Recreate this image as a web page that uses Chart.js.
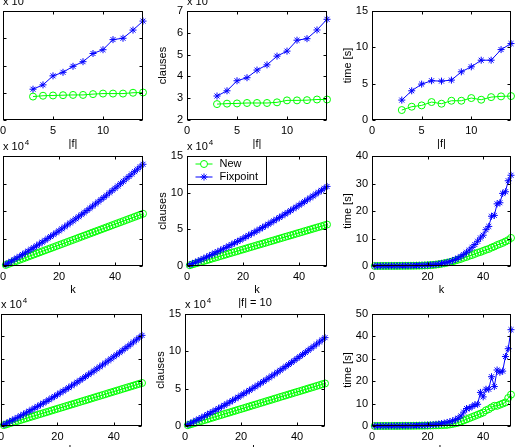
<!DOCTYPE html>
<html><head><meta charset="utf-8">
<script src="https://cdn.jsdelivr.net/npm/chart.js@4"></script>
<style>
html,body{margin:0;padding:0;width:516px;height:447px;overflow:hidden;background:#fff;position:relative}
canvas{position:absolute}
</style></head><body>
<script>
// ---------- data ----------
const fSizes = [3,4,5,6,7,8,9,10,11,12,13,14];
const kValues = [1,2,3,4,5,6,7,8,9,10,11,12,13,14,15,16,17,18,19,20,21,22,23,24,25,26,27,28,29,30,31,32,33,34,35,36,37,38,39,40,41,42,43,44,45,46,47,48,49,50];

// row 1: varying |f|
const topLeftNew  = [1.86,1.89,1.90,1.91,1.92,1.92,1.95,1.97,1.97,1.97,2.00,2.01];
const topLeftFix  = [2.13,2.29,2.62,2.75,2.97,3.14,3.44,3.58,3.95,4.00,4.30,4.63];
const topMidNew   = [2.73,2.75,2.76,2.78,2.78,2.78,2.81,2.90,2.90,2.91,2.94,2.94];
const topMidFix   = [3.10,3.34,3.80,3.94,4.29,4.53,4.93,5.16,5.66,5.73,6.13,6.62];
const topRightNew = [1.37,1.83,2.01,2.47,2.24,2.65,2.65,3.02,2.79,3.15,3.25,3.29];
const topRightFix = [2.74,4.02,4.94,5.40,5.35,5.49,6.63,7.32,8.23,8.23,9.69,10.52];

// row 2: varying k
const midLeftNew = [0.19,0.38,0.57,0.76,0.95,1.14,1.33,1.52,1.71,1.90,2.09,2.28,2.47,2.66,2.85,3.04,3.23,3.42,3.61,3.80,3.99,4.18,4.37,4.56,4.75,4.94,5.13,5.32,5.51,5.70,5.89,6.08,6.27,6.46,6.65,6.84,7.03,7.22,7.41,7.60,7.79,7.98,8.17,8.36,8.55,8.74,8.93,9.12,9.31,9.50];
const midLeftFix = [0.29,0.58,0.87,1.18,1.47,1.77,2.08,2.40,2.71,3.03,3.34,3.68,4.01,4.33,4.67,5.01,5.35,5.69,6.04,6.39,6.75,7.11,7.47,7.83,8.20,8.58,8.95,9.33,9.70,10.09,10.49,10.88,11.27,11.66,12.07,12.46,12.87,13.30,13.71,14.13,14.54,14.97,15.40,15.84,16.27,16.71,17.15,17.60,18.04,18.50];
const midMidNew = [0.11,0.23,0.34,0.45,0.57,0.68,0.79,0.90,1.02,1.13,1.24,1.36,1.47,1.58,1.70,1.81,1.92,2.03,2.15,2.26,2.37,2.49,2.60,2.71,2.83,2.94,3.05,3.16,3.28,3.39,3.50,3.62,3.73,3.84,3.96,4.07,4.18,4.29,4.41,4.52,4.63,4.75,4.86,4.97,5.09,5.20,5.31,5.42,5.54,5.65];
const midMidFix = [0.17,0.34,0.51,0.69,0.86,1.04,1.22,1.41,1.59,1.78,1.96,2.16,2.35,2.54,2.74,2.94,3.14,3.34,3.54,3.75,3.96,4.17,4.38,4.59,4.81,5.03,5.25,5.47,5.69,5.92,6.15,6.38,6.61,6.84,7.08,7.31,7.55,7.80,8.04,8.29,8.53,8.78,9.03,9.29,9.54,9.80,10.06,10.32,10.58,10.85];
const midRightNew = [0.01,0.01,0.01,0.02,0.02,0.02,0.03,0.03,0.04,0.04,0.05,0.06,0.07,0.08,0.09,0.11,0.13,0.16,0.20,0.25,0.32,0.40,0.50,0.65,0.80,1.00,1.20,1.40,1.70,2.00,2.30,2.60,3.00,3.30,3.70,4.00,4.40,4.80,5.10,5.50,5.90,6.20,6.70,7.10,7.60,8.00,8.40,8.90,9.40,10.20];
const midRightFix = [0.02,0.02,0.03,0.03,0.04,0.04,0.05,0.06,0.07,0.08,0.09,0.10,0.12,0.14,0.16,0.19,0.22,0.26,0.30,0.35,0.41,0.50,0.60,0.75,0.90,1.10,1.30,1.60,2.00,2.40,2.90,3.50,4.20,5.00,5.80,6.80,7.80,9.00,10.20,11.20,13.20,14.40,18.10,18.40,22.60,23.00,26.40,27.00,31.00,33.00];

// row 3: |f| = 10, varying k
const botLeftNew = [0.19,0.38,0.58,0.77,0.96,1.15,1.34,1.54,1.73,1.92,2.11,2.30,2.50,2.69,2.88,3.07,3.26,3.46,3.65,3.84,4.03,4.22,4.42,4.61,4.80,4.99,5.18,5.38,5.57,5.76,5.95,6.14,6.34,6.53,6.72,6.91,7.10,7.30,7.49,7.68,7.87,8.06,8.26,8.45,8.64,8.83,9.02,9.22,9.41,9.60];
const botLeftFix = [0.32,0.63,0.96,1.28,1.61,1.93,2.27,2.63,2.96,3.32,3.66,4.02,4.38,4.74,5.11,5.47,5.85,6.22,6.60,6.99,7.39,7.78,8.16,8.55,8.96,9.37,9.78,10.19,10.60,11.03,11.46,11.88,12.31,12.76,13.20,13.63,14.07,14.54,14.98,15.46,15.90,16.36,16.83,17.32,17.78,18.26,18.76,19.24,19.72,20.23];
const botMidNew = [0.11,0.23,0.34,0.46,0.57,0.69,0.80,0.91,1.03,1.14,1.26,1.37,1.48,1.60,1.71,1.82,1.94,2.05,2.17,2.28,2.39,2.51,2.62,2.74,2.85,2.96,3.08,3.19,3.31,3.42,3.53,3.65,3.76,3.88,3.99,4.10,4.22,4.33,4.45,4.56,4.67,4.79,4.90,5.02,5.13,5.24,5.36,5.47,5.59,5.70];
const botMidFix = [0.19,0.37,0.56,0.75,0.94,1.13,1.33,1.54,1.73,1.94,2.14,2.35,2.56,2.77,2.99,3.20,3.42,3.64,3.86,4.09,4.32,4.55,4.77,5.00,5.24,5.48,5.72,5.96,6.20,6.45,6.70,6.95,7.20,7.46,7.72,7.97,8.23,8.50,8.76,9.04,9.30,9.57,9.84,10.13,10.40,10.68,10.97,11.25,11.53,11.83];
const botRightNew = [0.01,0.01,0.01,0.02,0.02,0.02,0.03,0.03,0.04,0.04,0.05,0.06,0.07,0.08,0.09,0.10,0.12,0.14,0.16,0.19,0.22,0.26,0.30,0.34,0.40,0.45,0.50,0.70,0.90,1.20,1.50,2.00,2.50,3.00,3.50,4.00,4.50,5.00,5.50,6.00,7.00,7.50,8.30,9.00,9.00,9.50,10.00,10.50,12.50,14.00];
const botRightFix = [0.02,0.02,0.03,0.03,0.04,0.05,0.06,0.07,0.08,0.09,0.10,0.12,0.14,0.16,0.19,0.22,0.26,0.30,0.35,0.40,0.50,0.60,0.75,0.90,1.10,1.30,1.60,1.90,2.30,2.80,3.50,4.50,6.20,7.80,8.00,8.70,9.50,9.70,15.00,13.00,16.40,16.40,22.00,17.60,25.00,24.00,24.50,31.00,34.50,43.00];

const seriesNames = ['New','Fixpoint'];
const axisTitles = {f:'|f|', k:'k', clauses:'clauses', time:'time [s]'};
const rowTitle = '|f| = 10';

// ---------- drawing ----------
const GREEN = '#00ff00', BLUE = '#0000ff';
const FONT = "'Liberation Sans', Arial, Helvetica, sans-serif";
Chart.defaults.font.family = FONT;
Chart.defaults.font.size = 11;
Chart.defaults.color = '#000';

function makeChart(cfg){
  const W=31,H=31,PT=20,PR=6;
  const [x0,y0,x1,y1]=cfg.area;
  const cw=(x1-x0)+W+PR, ch=(y1-y0)+PT+H;
  const c=document.createElement('canvas');
  c.width=cw;c.height=ch;
  c.style.left=(x0-W)+'px';c.style.top=(y0-PT)+'px';
  c.style.width=cw+'px';c.style.height=ch+'px';
  document.body.appendChild(c);

  const plugin={
    id:'matlab'+Math.random().toString(36).slice(2),
    afterDraw(chart){
      const ctx=chart.ctx, ca=chart.chartArea;
      ctx.save();
      ctx.strokeStyle='#000';ctx.lineWidth=1;
      const L=Math.round(ca.left)+0.5,R=Math.round(ca.right)-0.5,T=Math.round(ca.top)+0.5,B=Math.round(ca.bottom)-0.5;
      const xs=chart.scales.x, ys=chart.scales.y, tl=3;
      ctx.beginPath();
      xs.ticks.forEach(t=>{const p=Math.round(xs.getPixelForValue(t.value))+0.5;ctx.moveTo(p,B);ctx.lineTo(p,B-tl);ctx.moveTo(p,T);ctx.lineTo(p,T+tl);});
      ys.ticks.forEach(t=>{const p=Math.round(ys.getPixelForValue(t.value))+0.5;ctx.moveTo(L,p);ctx.lineTo(L+tl,p);ctx.moveTo(R,p);ctx.lineTo(R-tl,p);});
      ctx.stroke();
      ctx.strokeRect(L,T,R-L,B-T);
      ctx.fillStyle='#000';ctx.textBaseline='middle';
      if(cfg.exp){
        ctx.textAlign='left';
        ctx.font='11px '+FONT;
        const base='x 10';
        ctx.fillText(base,ca.left,ca.top-9);
        const w=ctx.measureText(base).width;
        ctx.font='8px '+FONT;
        ctx.fillText('4',ca.left+w+1,ca.top-13);
      }
      if(cfg.title){
        ctx.textAlign='center';ctx.font='11px '+FONT;
        ctx.fillText(cfg.title,(ca.left+ca.right)/2,ca.top-11);
      }
      if(cfg.legend){
        const lx=L, ly=T, lw=79, lh=28;
        ctx.fillStyle='#fff';ctx.fillRect(lx,ly,lw,lh);
        ctx.strokeStyle='#000';ctx.strokeRect(lx,ly,lw,lh);
        const rows=[{c:GREEN,s:'circle',t:seriesNames[0],y:ly+7.5},{c:BLUE,s:'star',t:seriesNames[1],y:ly+20.5}];
        rows.forEach(r=>{
          ctx.strokeStyle=r.c;ctx.lineWidth=1;
          ctx.beginPath();ctx.moveTo(lx+8,r.y);ctx.lineTo(lx+25,r.y);ctx.stroke();
          Chart.helpers.drawPoint(ctx,{pointStyle:r.s,radius:3.5,borderWidth:1,rotation:0},lx+16.5,r.y);
          ctx.fillStyle='#000';ctx.textAlign='left';ctx.font='11px '+FONT;
          ctx.fillText(r.t,lx+32,r.y);
        });
      }
      ctx.restore();
    }
  };

  const ds=(vals,color,style,order,label)=>({
    label,data:cfg.xs.map((x,i)=>({x,y:vals[i]})),
    borderColor:color,backgroundColor:'rgba(0,0,0,0)',borderWidth:1,
    pointStyle:style,pointRadius:3.5,pointHoverRadius:3.5,pointBorderWidth:1,
    pointBorderColor:color,pointBackgroundColor:'rgba(0,0,0,0)',
    tension:0,order,clip:false,fill:false
  });
  const keepSteps=step=>s=>{s.ticks=s.ticks.filter(t=>Math.abs(t.value/step-Math.round(t.value/step))<1e-9);};

  new Chart(c,{
    type:'line',
    data:{datasets:[ds(cfg.newv,GREEN,'circle',2,seriesNames[0]),ds(cfg.fixv,BLUE,'star',1,seriesNames[1])]},
    options:{
      responsive:false,animation:false,devicePixelRatio:1,
      events:[],
      layout:{padding:{left:0,right:PR,top:PT,bottom:0}},
      plugins:{legend:{display:false},tooltip:{enabled:false}},
      scales:{
        x:{type:'linear',min:0,max:cfg.xMax,
          grid:{display:false,drawTicks:false},border:{display:false},
          ticks:{stepSize:cfg.xStep,padding:4,color:'#000',maxRotation:0,autoSkip:false,font:{size:11}},
          title:{display:true,text:cfg.xTitle,color:'#000',font:{size:11},padding:0},
          afterBuildTicks:keepSteps(cfg.xStep),
          afterFit:s=>{s.height=H;}},
        y:{type:'linear',min:cfg.yMin,max:cfg.yMax,
          grid:{display:false,drawTicks:false},border:{display:false},
          ticks:{stepSize:cfg.yStep,padding:4,color:'#000',autoSkip:false,font:{size:11}},
          title:{display:true,text:cfg.yTitle,color:'#000',font:{size:11},padding:0},
          afterBuildTicks:keepSteps(cfg.yStep),
          afterFit:s=>{s.width=W;}}
      }
    },
    plugins:[plugin]
  });
}

const cols=[[3,143],[187,327],[372,511]];
const rows=[[11,120],[156,266],[314,426]];

makeChart({area:[cols[0][0],rows[0][0],cols[0][1],rows[0][1]],xs:fSizes,newv:topLeftNew,fixv:topLeftFix,xMax:14,xStep:5,yMin:1,yMax:5,yStep:1,xTitle:axisTitles.f,yTitle:'',exp:true});
makeChart({area:[cols[1][0],rows[0][0],cols[1][1],rows[0][1]],xs:fSizes,newv:topMidNew,fixv:topMidFix,xMax:14,xStep:5,yMin:2,yMax:7,yStep:1,xTitle:axisTitles.f,yTitle:axisTitles.clauses,exp:true});
makeChart({area:[cols[2][0],rows[0][0],cols[2][1],rows[0][1]],xs:fSizes,newv:topRightNew,fixv:topRightFix,xMax:14,xStep:5,yMin:0,yMax:15,yStep:5,xTitle:axisTitles.f,yTitle:axisTitles.time});

makeChart({area:[cols[0][0],rows[1][0],cols[0][1],rows[1][1]],xs:kValues,newv:midLeftNew,fixv:midLeftFix,xMax:50,xStep:20,yMin:0,yMax:20,yStep:5,xTitle:axisTitles.k,yTitle:'',exp:true});
makeChart({area:[cols[1][0],rows[1][0],cols[1][1],rows[1][1]],xs:kValues,newv:midMidNew,fixv:midMidFix,xMax:50,xStep:20,yMin:0,yMax:15,yStep:5,xTitle:axisTitles.k,yTitle:axisTitles.clauses,exp:true,legend:true});
makeChart({area:[cols[2][0],rows[1][0],cols[2][1],rows[1][1]],xs:kValues,newv:midRightNew,fixv:midRightFix,xMax:50,xStep:20,yMin:0,yMax:40,yStep:10,xTitle:axisTitles.k,yTitle:axisTitles.time});

makeChart({area:[1,rows[2][0],142,rows[2][1]],xs:kValues,newv:botLeftNew,fixv:botLeftFix,xMax:50,xStep:20,yMin:0,yMax:25,yStep:5,xTitle:axisTitles.k,yTitle:'',exp:true});
makeChart({area:[185,rows[2][0],325,rows[2][1]],xs:kValues,newv:botMidNew,fixv:botMidFix,xMax:50,xStep:20,yMin:0,yMax:15,yStep:5,xTitle:axisTitles.k,yTitle:axisTitles.clauses,exp:true,title:rowTitle});
makeChart({area:[cols[2][0],rows[2][0],cols[2][1],rows[2][1]],xs:kValues,newv:botRightNew,fixv:botRightFix,xMax:50,xStep:20,yMin:0,yMax:50,yStep:10,xTitle:axisTitles.k,yTitle:axisTitles.time});
</script>
</body></html>
